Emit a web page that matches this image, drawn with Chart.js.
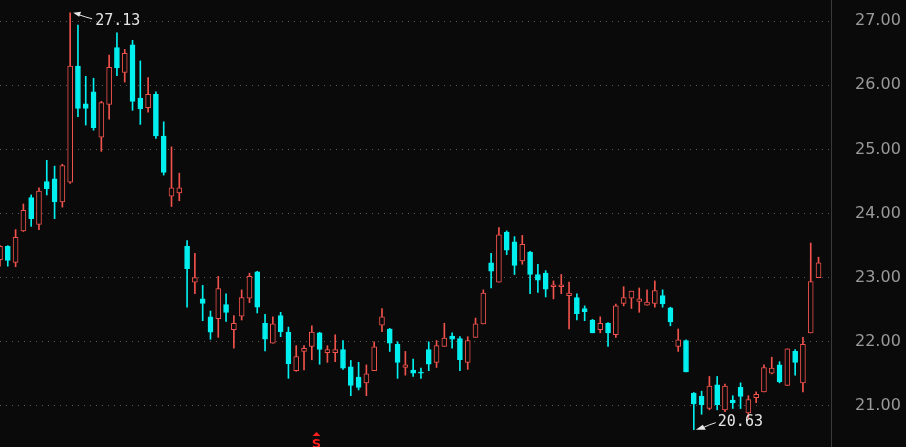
<!DOCTYPE html>
<html>
<head>
<meta charset="utf-8">
<script src="https://cdn.jsdelivr.net/npm/chart.js@4/dist/chart.umd.min.js"></script>
<style>
  html, body { margin: 0; padding: 0; background: #0a0a0a; }
  #wrap { width: 906px; height: 447px; }
</style>
</head>
<body>
<div id="wrap"><canvas id="kline"></canvas></div>
<script>
// daily candles (open / high / low / close)
const opens = [
  23.28, 23.49, 23.24, 23.73, 24.25, 23.83, 24.50, 24.54, 24.18, 24.49,
  26.30, 25.71, 25.90, 25.19, 25.70, 26.59, 26.20, 26.63, 25.80, 25.65,
  25.86, 25.21, 24.27, 24.32, 23.49, 22.93, 22.67, 22.39, 22.36, 22.58,
  22.19, 22.40, 22.68, 23.09, 22.29, 21.98, 22.41, 22.15, 21.55, 21.85,
  21.93, 22.14, 21.83, 21.83, 21.88, 21.61, 21.45, 21.36, 21.55, 22.26,
  22.20, 21.96, 21.60, 21.56, 21.53, 21.88, 21.68, 21.93, 22.09, 22.05,
  21.68, 22.07, 22.28, 23.23, 22.93, 23.71, 23.56, 23.26, 23.40, 23.05,
  23.07, 22.86, 22.86, 22.72, 22.69, 22.52, 22.34, 22.19, 22.29, 22.11,
  22.60, 22.68, 22.63, 22.57, 22.60, 22.72, 22.53, 21.93, 22.02, 21.20,
  21.15, 20.96, 21.33, 20.94, 21.09, 21.29, 20.89, 21.13, 21.22, 21.51,
  21.64, 21.32, 21.85, 21.36, 22.14, 23.00
];
const highs = [
  23.50, 23.50, 23.75, 24.15, 24.29, 24.40, 24.83, 24.74, 24.77, 27.13,
  26.94, 26.14, 26.11, 25.75, 26.47, 26.82, 26.56, 26.70, 26.38, 26.12,
  25.90, 25.43, 25.04, 24.63, 23.58, 23.38, 22.88, 22.48, 23.02, 22.75,
  22.41, 22.81, 23.07, 23.10, 22.43, 22.39, 22.46, 22.23, 21.94, 21.94,
  22.25, 22.15, 21.94, 22.11, 22.02, 21.71, 21.68, 21.64, 22.00, 22.52,
  22.21, 22.00, 21.85, 21.73, 21.59, 22.00, 22.02, 22.29, 22.14, 22.08,
  22.08, 22.37, 22.81, 23.38, 23.78, 23.73, 23.64, 23.66, 23.41, 23.21,
  23.11, 22.95, 23.05, 22.93, 22.75, 22.56, 22.35, 22.39, 22.30, 22.59,
  22.86, 22.79, 22.84, 22.81, 22.95, 22.81, 22.54, 22.20, 22.03, 21.21,
  21.23, 21.46, 21.46, 21.34, 21.16, 21.36, 21.16, 21.22, 21.64, 21.76,
  21.69, 21.89, 21.88, 22.07, 23.54, 23.32
];
const lows = [
  23.18, 23.18, 23.17, 23.72, 23.80, 23.75, 24.29, 23.92, 24.10, 24.47,
  25.51, 25.38, 25.30, 24.97, 25.47, 26.15, 26.05, 25.61, 25.39, 25.58,
  25.17, 24.60, 24.11, 24.20, 22.54, 22.75, 22.33, 22.04, 22.07, 22.32,
  21.90, 22.34, 22.61, 22.45, 21.86, 21.98, 22.08, 21.43, 21.54, 21.56,
  21.72, 21.65, 21.68, 21.69, 21.57, 21.16, 21.25, 21.16, 21.55, 22.16,
  21.85, 21.43, 21.48, 21.46, 21.43, 21.55, 21.60, 21.93, 21.90, 21.55,
  21.57, 22.07, 22.28, 22.84, 22.93, 23.36, 23.05, 23.21, 22.75, 22.77,
  22.70, 22.67, 22.75, 22.20, 22.34, 22.33, 22.14, 22.14, 21.93, 22.07,
  22.56, 22.52, 22.46, 22.57, 22.54, 22.54, 22.25, 21.85, 21.53, 20.63,
  20.87, 20.94, 20.94, 20.91, 20.96, 20.96, 20.81, 21.05, 21.22, 21.50,
  21.36, 21.32, 21.48, 21.22, 22.14, 23.00
];
const closes = [
  23.49, 23.27, 23.63, 24.05, 23.92, 24.35, 24.39, 24.18, 24.75, 26.30,
  25.64, 25.64, 25.34, 25.73, 26.28, 26.27, 26.50, 25.75, 25.63, 25.86,
  25.21, 24.64, 24.40, 24.40, 23.14, 23.00, 22.60, 22.15, 22.83, 22.46,
  22.29, 22.69, 23.02, 22.54, 22.04, 22.28, 22.16, 21.66, 21.77, 21.90,
  22.15, 21.88, 21.88, 21.88, 21.59, 21.32, 21.29, 21.50, 21.92, 22.39,
  21.98, 21.68, 21.64, 21.51, 21.51, 21.65, 21.94, 22.06, 22.04, 21.72,
  22.02, 22.28, 22.76, 23.10, 23.67, 23.43, 23.19, 23.52, 23.05, 22.96,
  22.82, 22.89, 22.89, 22.76, 22.44, 22.47, 22.14, 22.29, 22.14, 22.56,
  22.69, 22.79, 22.67, 22.62, 22.80, 22.59, 22.31, 22.03, 21.53, 21.03,
  21.02, 21.31, 21.02, 21.31, 21.05, 21.15, 21.10, 21.18, 21.60, 21.59,
  21.38, 21.89, 21.68, 21.96, 22.94, 23.23
];
const yTicks = [21, 22, 23, 24, 25, 26, 27];
const signalIndex = 40.6;   // red "S" marker under the candles
const signalText = 'S';

const UP = '#f0524c';
const DOWN = '#00f0f0';
const BG = '#0a0a0a';

const isUp = closes.map((c, i) => c >= opens[i]);

// labels for the highest high and the lowest low, with a small arrow
const extremesPlugin = {
  id: 'extremes',
  afterDatasetsDraw(chart) {
    const { ctx, scales: { x, y } } = chart;
    const iMax = highs.indexOf(Math.max(...highs));
    const iMin = lows.indexOf(Math.min(...lows));
    ctx.save();
    ctx.strokeStyle = '#e6e6e6';
    ctx.fillStyle = '#e6e6e6';
    ctx.lineWidth = 1;
    ctx.font = '15px "DejaVu Sans Mono", monospace';
    ctx.textBaseline = 'middle';

    let px = x.getPixelForValue(iMax), py = y.getPixelForValue(highs[iMax]);
    ctx.beginPath();
    ctx.moveTo(px + 6, py + 1);
    ctx.lineTo(px + 15, py + 4);
    ctx.lineTo(px + 22, py + 6);
    ctx.stroke();
    ctx.beginPath();
    ctx.moveTo(px + 3, py);
    ctx.lineTo(px + 11, py - 1);
    ctx.lineTo(px + 9, py + 4);
    ctx.closePath();
    ctx.fill();
    ctx.fillText(highs[iMax].toFixed(2), px + 25, py + 8);

    px = x.getPixelForValue(iMin); py = y.getPixelForValue(lows[iMin]);
    ctx.beginPath();
    ctx.moveTo(px + 7, py - 1);
    ctx.lineTo(px + 16, py - 5);
    ctx.lineTo(px + 22, py - 7);
    ctx.stroke();
    ctx.beginPath();
    ctx.moveTo(px + 2, py);
    ctx.lineTo(px + 12, py);
    ctx.lineTo(px + 9, py - 5);
    ctx.closePath();
    ctx.fill();
    ctx.fillText(lows[iMin].toFixed(2), px + 24, py - 8);

    // signal marker at the bottom edge
    const sx = x.getPixelForValue(signalIndex);
    const bottom = chart.chartArea.bottom;
    ctx.fillStyle = '#ff1e1e';
    ctx.beginPath();
    ctx.moveTo(sx, bottom - 15);
    ctx.lineTo(sx + 4, bottom - 11);
    ctx.lineTo(sx - 4, bottom - 11);
    ctx.closePath();
    ctx.fill();
    ctx.font = 'bold 13px "DejaVu Sans", sans-serif';
    ctx.textAlign = 'center';
    ctx.textBaseline = 'alphabetic';
    ctx.fillText(signalText, sx, bottom + 1);
    ctx.restore();
  }
};

new Chart(document.getElementById('kline'), {
  type: 'bar',
  data: {
    datasets: [
      {
        label: 'body',
        data: opens.map((o, i) => ({ x: i, y: [o, closes[i]] })),
        backgroundColor: isUp.map(u => u ? BG : DOWN),
        borderColor: isUp.map(u => u ? UP : DOWN),
        borderWidth: 1,
        borderSkipped: false,
        barThickness: 5,
        grouped: false,
        order: 0
      },
      {
        label: 'wick',
        data: lows.map((l, i) => ({ x: i, y: [l, highs[i]] })),
        backgroundColor: isUp.map(u => u ? UP : DOWN),
        borderWidth: 0,
        borderSkipped: false,
        barThickness: 1,
        grouped: false,
        order: 1
      }
    ]
  },
  options: {
    responsive: true,
    maintainAspectRatio: false,
    animation: false,
    layout: { padding: 0 },
    plugins: {
      legend: { display: false },
      tooltip: { enabled: false }
    },
    scales: {
      x: {
        type: 'linear',
        offset: false,
        min: 0,
        max: 106.6,
        display: false
      },
      y: {
        position: 'right',
        min: 20.36,
        max: 27.33,
        afterBuildTicks: axis => { axis.ticks = yTicks.map(v => ({ value: v })); },
        afterFit: axis => { axis.width = 75; axis.paddingTop = 0; axis.paddingBottom = 0; },
        ticks: {
          padding: 24,
          color: '#9a9a9a',
          font: { family: '"DejaVu Sans", sans-serif', size: 16 },
          callback: v => v.toFixed(2)
        },
        grid: { color: '#5a5a5a', drawTicks: false },
        border: { display: true, color: '#3a3a3a', width: 1, dash: [1, 5] }
      }
    }
  },
  plugins: [extremesPlugin]
});
</script>
</body>
</html>
